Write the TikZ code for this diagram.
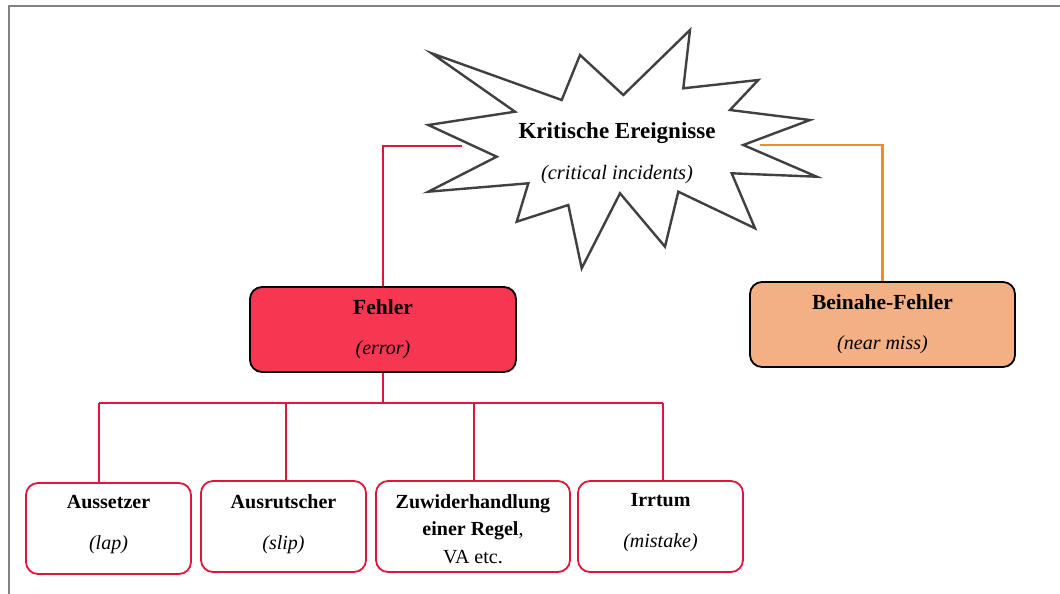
\documentclass[tikz,border=0pt]{standalone}
\usepackage{fontspec}
\setmainfont{Liberation Serif}
\definecolor{errfill}{RGB}{247,54,82}
\definecolor{nearfill}{RGB}{243,176,132}
\definecolor{errline}{RGB}{222,22,58}
\definecolor{nearline}{RGB}{242,140,40}
\definecolor{burstline}{RGB}{64,64,64}
\definecolor{framegray}{RGB}{130,130,130}
\begin{document}
\begin{tikzpicture}[x=1pt,y=-1pt,
  mainbox/.style={draw=black, line width=1.8pt, rounded corners=12pt, align=center, inner sep=0pt,
    font=\fontsize{21.5}{40}\selectfont},
  subbox/.style={draw=errline, fill=white, line width=1.8pt, rounded corners=12pt, inner sep=0pt, minimum height=91pt},
  subtext/.style={align=center, inner sep=0pt, font=\fontsize{20}{41}\selectfont},
  errconn/.style={draw=errline, line width=2pt},
  nearconn/.style={draw=nearline, line width=2.2pt},
  burst/.style={draw=burstline, fill=white, line width=2.4pt, line join=miter}]
\useasboundingbox (0,0) rectangle (1060,594);
% page frame
\draw[framegray, line width=2pt] (9,594) -- (9,6) -- (1060,6);

% starburst with the title text
\draw[burst] (431.7,53.3) -- (561.7,100) -- (580,55) -- (623.3,95) -- (690,30)
  -- (683.3,88.3) -- (758.3,80) -- (730,110) -- (810,120) -- (743.3,145)
  -- (816.7,176.7) -- (731.7,173.3) -- (755,228.3) -- (678.3,191.7)
  -- (665,246.7) -- (620,193.3) -- (581.7,268.3) -- (568.3,205)
  -- (516.7,221.7) -- (528.3,183.3) -- (428.3,191.7) -- (496.7,156.7)
  -- (428.3,125) -- (515,111.7) -- cycle;
\node[align=center, inner sep=0pt, font=\fontsize{23}{41}\selectfont] (ke) at (617,153)
  {\bfseries Kritische Ereignisse\\
   \fontsize{20.5}{41}\selectfont\itshape (critical incidents)};
\coordinate (kl) at (462,146);
\coordinate (kr) at (760,145);

% main category boxes
\node[mainbox, fill=errfill, minimum width=266pt, minimum height=85pt] (fehler) at (383,329.5)
  {\bfseries Fehler\\ \fontsize{20}{40}\selectfont\itshape (error)};
\node[mainbox, fill=nearfill, minimum width=265pt, minimum height=85pt] (beinahe) at (882.5,324.5)
  {\bfseries Beinahe-Fehler\\ \fontsize{20}{40}\selectfont\itshape (near miss)};

\draw[errconn] (kl) -| (fehler.north);
\draw[nearconn] (kr) -| (beinahe.north);

% error sub-types
\node[subbox, minimum width=165pt] (a1) at (108.5,528.5) {};
\node[subbox, minimum width=165pt] (a2) at (283.5,526.5) {};
\node[subbox, minimum width=194pt] (a3) at (473,526.5) {};
\node[subbox, minimum width=165pt] (a4) at (660.5,526.5) {};

\node[subtext] (a1t) at (108.5,525) {\textbf{Aussetzer}\\ \textit{(lap)}};
\node[subtext] (a2t) at (283.5,524) {\textbf{Ausrutscher}\\ \textit{(slip)}};
\node[subtext, font=\fontsize{20}{27.5}\selectfont] (a3t) at (473,529)
  {\textbf{Zuwiderhandlung}\\ \textbf{einer Regel},\\ VA etc.};
\node[subtext] (a4t) at (660.5,523) {\textbf{Irrtum}\\ \textit{(mistake)}};

% tree connectors below the error box
\coordinate (bus) at (383,403);
\coordinate (d1) at (99,403);
\coordinate (d2) at (286,403);
\coordinate (d3) at (474,403);
\coordinate (d4) at (663,403);
\draw[errconn] (fehler.south) -- (bus);
\draw[errconn] (d1) -- (d4);
\draw[errconn] (d1) -- (d1 |- a1.north);
\draw[errconn] (d2) -- (d2 |- a2.north);
\draw[errconn] (d3) -- (d3 |- a3.north);
\draw[errconn] (d4) -- (d4 |- a4.north);
\end{tikzpicture}
\end{document}
